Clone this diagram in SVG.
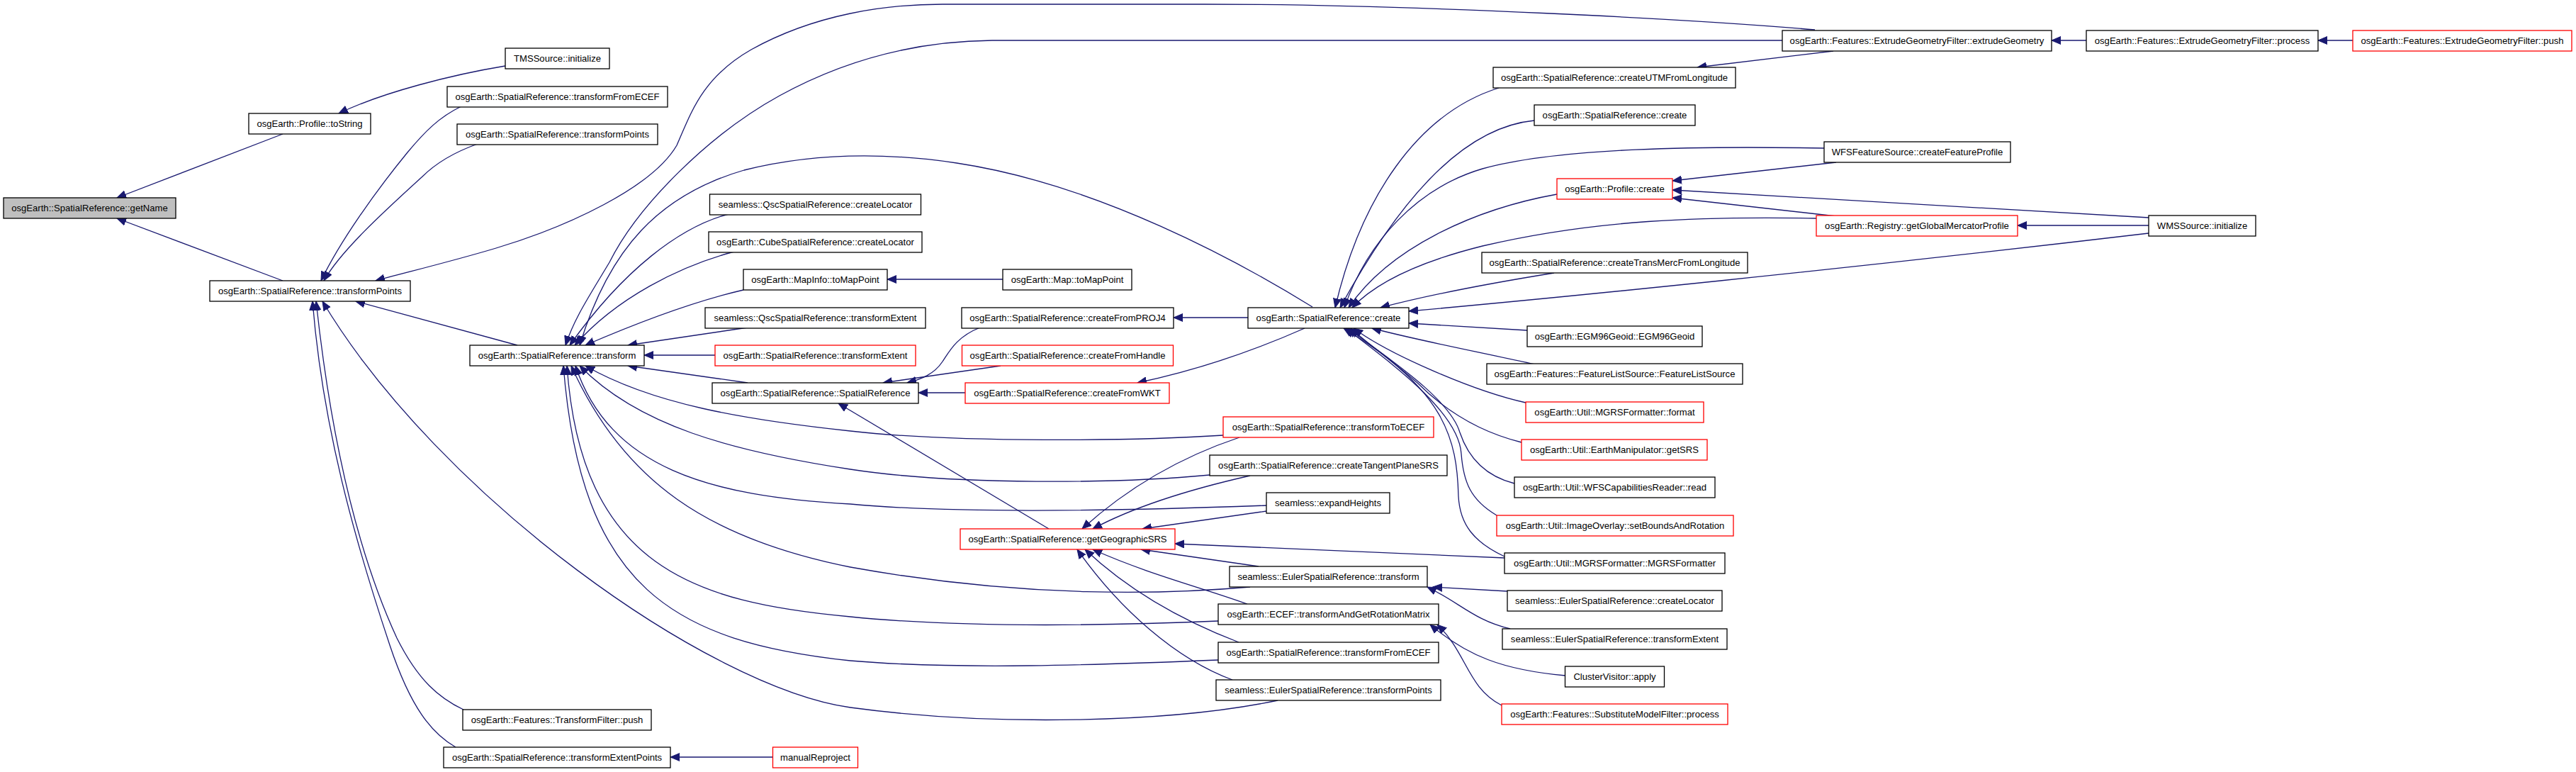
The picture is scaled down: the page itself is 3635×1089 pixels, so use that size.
<svg xmlns="http://www.w3.org/2000/svg" width="3635" height="1089" viewBox="0 0 3635 1089">
<defs>
<style>
.n rect{fill:#fff;stroke:#000;stroke-width:1.3}
.n.r rect{stroke:#f00}
.n.g rect{fill:#bfbfbf}
.n text{font-family:"Liberation Sans",Arial,sans-serif;font-size:13.1px;fill:#000;text-anchor:middle}
#edges path{fill:none;stroke:#191970;stroke-width:1.3;marker-end:url(#ah)}
</style>
<marker id="ah" markerUnits="userSpaceOnUse" markerWidth="14" markerHeight="12" viewBox="0 -6 14 12" refX="13" refY="0" orient="auto">
<path d="M0,-5.5 L13,0 L0,5.5 Z" fill="#191970" stroke="#191970" stroke-width="1"/>
</marker>
</defs>
<rect width="3635" height="1089" fill="#fff"/>
<g id="edges">
<path d="M399,189 L165,279"/>
<path d="M399,396 L165,308"/>
<path d="M713,93 C640,105 540,130 478,160"/>
<path d="M651,150 C620,165 600,185 575,215 C530,270 480,340 453,396"/>
<path d="M674,203 C640,215 615,230 595,250 C540,300 480,355 457,396"/>
<path d="M730,487 L502,425"/>
<path d="M2561,42 C2400,28 2000,6 1700,6 L1330,6 C1250,6 1150,20 1060,70 C990,110 975,160 955,205 C920,265 800,320 700,350 C640,368 570,385 530,396"/>
<path d="M2515,57 L1400,57 C1300,58 1200,80 1100,135 C1000,190 900,290 860,370 C830,420 810,450 798,487"/>
<path d="M1852,433 C1750,370 1550,260 1350,230 C1250,215 1150,215 1050,240 C930,275 860,350 818,487"/>
<path d="M1028,302 C960,320 880,380 804,487"/>
<path d="M1036,355 C960,375 870,420 811,487"/>
<path d="M1049,409 C980,425 900,455 826,487"/>
<path d="M1055,462 L886,487"/>
<path d="M1009,501 L909,501"/>
<path d="M1055,540 L886,516"/>
<path d="M1415,394 L1252,394"/>
<path d="M1383,462 C1350,475 1340,495 1330,510 C1318,528 1300,535 1280,540"/>
<path d="M1412,516 L1246,540"/>
<path d="M1362,554 L1296,554"/>
<path d="M1761,448 L1656,448"/>
<path d="M1841,463 C1780,490 1700,520 1605,540"/>
<path d="M1480,746 L1183,569"/>
<path d="M1726,614 C1600,622 1350,625 1200,608 C1050,592 920,570 826,516"/>
<path d="M1707,670 C1580,682 1350,685 1200,662 C1030,636 900,600 818,516"/>
<path d="M1787,713 C1600,720 1350,725 1200,711 C1000,700 860,660 812,516"/>
<path d="M1764,828 C1650,838 1450,845 1200,800 C1000,760 880,680 806,516"/>
<path d="M1719,876 C1550,883 1350,885 1200,870 C980,850 820,800 800,516"/>
<path d="M1719,931 C1550,938 1350,945 1200,932 C950,905 820,830 795,516"/>
<path d="M1803,988 C1650,1020 1400,1025 1200,998 C1000,970 620,700 455,425"/>
<path d="M654,1001 C620,985 590,960 560,900 C500,770 465,600 446,425"/>
<path d="M643,1054 C610,1035 580,1000 550,910 C500,760 455,600 441,425"/>
<path d="M2115,124 C2000,160 1920,280 1884,434"/>
<path d="M2165,170 C2060,180 1970,290 1891,434"/>
<path d="M2574,209 C2400,206 2200,208 2092,238 C2000,265 1930,340 1897,434"/>
<path d="M2197,274 C2080,295 1960,350 1903,434"/>
<path d="M2563,308 C2400,305 2250,310 2092,347 C2000,370 1940,400 1908,434"/>
<path d="M2193,385 C2100,400 2020,415 1948,434"/>
<path d="M3032,329 C2600,380 2200,420 1988,439"/>
<path d="M2155,466 L1988,456"/>
<path d="M2166,514 C2080,495 2000,480 1936,463"/>
<path d="M2153,568 C2080,552 1960,500 1910,463"/>
<path d="M2147,624 C2090,610 2040,580 2000,540 C1960,505 1930,485 1906,463"/>
<path d="M2137,682 C2090,670 2070,640 2060,610 C2045,560 1950,500 1902,463"/>
<path d="M2112,727 C2075,705 2065,680 2062,640 C2058,580 1960,510 1899,463"/>
<path d="M2123,785 C2080,765 2060,740 2058,700 C2056,620 2040,550 1896,463"/>
<path d="M2587,72 L2395,95"/>
<path d="M2944,57 L2895,57"/>
<path d="M3320,57 L3271,57"/>
<path d="M2591,229 L2360,255"/>
<path d="M3032,307 L2360,268"/>
<path d="M2591,305 L2360,279"/>
<path d="M3032,318 L2847,318"/>
<path d="M1749,617 C1680,640 1600,680 1527,746"/>
<path d="M1764,671 C1680,690 1600,715 1542,746"/>
<path d="M1787,721 L1612,746"/>
<path d="M2123,787 C1950,780 1800,772 1658,767"/>
<path d="M1776,799 L1610,775"/>
<path d="M1760,852 C1700,830 1620,810 1542,775"/>
<path d="M1748,906 C1680,880 1600,840 1531,775"/>
<path d="M1739,959 C1660,930 1580,860 1520,775"/>
<path d="M2127,834 L2022,828"/>
<path d="M2131,887 C2080,875 2060,850 2014,828"/>
<path d="M2209,953 C2120,945 2070,925 2018,881"/>
<path d="M2119,995 C2070,970 2070,920 2028,881"/>
<path d="M1091,1068 L946,1068"/>
</g>
<g id="n1" class="n g"><rect x="5" y="279" width="243" height="29"/><text x="126.5" y="298">osgEarth::SpatialReference::getName</text></g>
<g id="n2" class="n"><rect x="351" y="160" width="172" height="29"/><text x="437" y="179">osgEarth::Profile::toString</text></g>
<g id="n3" class="n"><rect x="296" y="396" width="283" height="29"/><text x="437.5" y="415">osgEarth::SpatialReference::transformPoints</text></g>
<g id="n4" class="n"><rect x="713" y="68" width="147" height="29"/><text x="786.5" y="87">TMSSource::initialize</text></g>
<g id="n5" class="n"><rect x="631" y="122" width="311" height="29"/><text x="786.5" y="141">osgEarth::SpatialReference::transformFromECEF</text></g>
<g id="n6" class="n"><rect x="645" y="175" width="283" height="29"/><text x="786.5" y="194">osgEarth::SpatialReference::transformPoints</text></g>
<g id="n7" class="n"><rect x="663" y="487" width="246" height="29"/><text x="786" y="506">osgEarth::SpatialReference::transform</text></g>
<g id="n8" class="n"><rect x="653" y="1001" width="266" height="29"/><text x="786" y="1020">osgEarth::Features::TransformFilter::push</text></g>
<g id="n9" class="n"><rect x="626" y="1054" width="320" height="29"/><text x="786" y="1073">osgEarth::SpatialReference::transformExtentPoints</text></g>
<g id="n11" class="n"><rect x="1001.5" y="274" width="298" height="29"/><text x="1150.5" y="293">seamless::QscSpatialReference::createLocator</text></g>
<g id="n12" class="n"><rect x="1000" y="327" width="301" height="29"/><text x="1150.5" y="346">osgEarth::CubeSpatialReference::createLocator</text></g>
<g id="n13" class="n"><rect x="1049" y="380" width="203" height="29"/><text x="1150.5" y="399">osgEarth::MapInfo::toMapPoint</text></g>
<g id="n14" class="n"><rect x="995" y="434" width="311" height="29"/><text x="1150.5" y="453">seamless::QscSpatialReference::transformExtent</text></g>
<g id="n15" class="n r"><rect x="1009" y="487" width="283" height="29"/><text x="1150.5" y="506">osgEarth::SpatialReference::transformExtent</text></g>
<g id="n16" class="n"><rect x="1005" y="540" width="291" height="29"/><text x="1150.5" y="559">osgEarth::SpatialReference::SpatialReference</text></g>
<g id="n17" class="n r"><rect x="1090.5" y="1054" width="120" height="29"/><text x="1150.5" y="1073">manualReproject</text></g>
<g id="n18" class="n"><rect x="1415" y="380" width="182" height="29"/><text x="1506" y="399">osgEarth::Map::toMapPoint</text></g>
<g id="n19" class="n"><rect x="1357" y="434" width="299" height="29"/><text x="1506.5" y="453">osgEarth::SpatialReference::createFromPROJ4</text></g>
<g id="n20" class="n r"><rect x="1357.5" y="487" width="298" height="29"/><text x="1506.5" y="506">osgEarth::SpatialReference::createFromHandle</text></g>
<g id="n21" class="n r"><rect x="1362" y="540" width="288" height="29"/><text x="1506" y="559">osgEarth::SpatialReference::createFromWKT</text></g>
<g id="n22" class="n r"><rect x="1355" y="746" width="303" height="29"/><text x="1506.5" y="765">osgEarth::SpatialReference::getGeographicSRS</text></g>
<g id="n23" class="n"><rect x="1761" y="434" width="227" height="29"/><text x="1874.5" y="453">osgEarth::SpatialReference::create</text></g>
<g id="n24" class="n r"><rect x="1726" y="588" width="297" height="29"/><text x="1874.5" y="607">osgEarth::SpatialReference::transformToECEF</text></g>
<g id="n25" class="n"><rect x="1707" y="642" width="335" height="29"/><text x="1874.5" y="661">osgEarth::SpatialReference::createTangentPlaneSRS</text></g>
<g id="n26" class="n"><rect x="1787" y="695" width="174" height="29"/><text x="1874" y="714">seamless::expandHeights</text></g>
<g id="n27" class="n"><rect x="1735" y="799" width="279" height="29"/><text x="1874.5" y="818">seamless::EulerSpatialReference::transform</text></g>
<g id="n28" class="n"><rect x="1719" y="852" width="311" height="29"/><text x="1874.5" y="871">osgEarth::ECEF::transformAndGetRotationMatrix</text></g>
<g id="n29" class="n"><rect x="1719" y="906" width="311" height="29"/><text x="1874.5" y="925">osgEarth::SpatialReference::transformFromECEF</text></g>
<g id="n30" class="n"><rect x="1716" y="959" width="317" height="29"/><text x="1874.5" y="978">seamless::EulerSpatialReference::transformPoints</text></g>
<g id="n31" class="n"><rect x="2107" y="95" width="342" height="29"/><text x="2278" y="114">osgEarth::SpatialReference::createUTMFromLongitude</text></g>
<g id="n32" class="n"><rect x="2165" y="148" width="227" height="29"/><text x="2278.5" y="167">osgEarth::SpatialReference::create</text></g>
<g id="n33" class="n r"><rect x="2197" y="252" width="163" height="29"/><text x="2278.5" y="271">osgEarth::Profile::create</text></g>
<g id="n34" class="n"><rect x="2091" y="356" width="375" height="29"/><text x="2278.5" y="375">osgEarth::SpatialReference::createTransMercFromLongitude</text></g>
<g id="n35" class="n"><rect x="2155" y="460" width="247" height="29"/><text x="2278.5" y="479">osgEarth::EGM96Geoid::EGM96Geoid</text></g>
<g id="n36" class="n"><rect x="2098" y="513" width="361" height="29"/><text x="2278.5" y="532">osgEarth::Features::FeatureListSource::FeatureListSource</text></g>
<g id="n37" class="n r"><rect x="2153" y="567" width="251" height="29"/><text x="2278.5" y="586">osgEarth::Util::MGRSFormatter::format</text></g>
<g id="n38" class="n r"><rect x="2147" y="620" width="262" height="29"/><text x="2278" y="639">osgEarth::Util::EarthManipulator::getSRS</text></g>
<g id="n39" class="n"><rect x="2137" y="673" width="283" height="29"/><text x="2278.5" y="692">osgEarth::Util::WFSCapabilitiesReader::read</text></g>
<g id="n40" class="n r"><rect x="2112" y="727" width="334" height="29"/><text x="2279" y="746">osgEarth::Util::ImageOverlay::setBoundsAndRotation</text></g>
<g id="n41" class="n"><rect x="2123" y="780" width="311" height="29"/><text x="2278.5" y="799">osgEarth::Util::MGRSFormatter::MGRSFormatter</text></g>
<g id="n42" class="n"><rect x="2127" y="833" width="303" height="29"/><text x="2278.5" y="852">seamless::EulerSpatialReference::createLocator</text></g>
<g id="n43" class="n"><rect x="2120" y="887" width="317" height="29"/><text x="2278.5" y="906">seamless::EulerSpatialReference::transformExtent</text></g>
<g id="n44" class="n"><rect x="2208.5" y="940" width="140" height="29"/><text x="2278.5" y="959">ClusterVisitor::apply</text></g>
<g id="n45" class="n r"><rect x="2119" y="993" width="319" height="29"/><text x="2278.5" y="1012">osgEarth::Features::SubstituteModelFilter::process</text></g>
<g id="n10" class="n"><rect x="2515" y="43" width="380" height="29"/><text x="2705" y="62">osgEarth::Features::ExtrudeGeometryFilter::extrudeGeometry</text></g>
<g id="n46" class="n"><rect x="2574" y="200" width="263" height="29"/><text x="2705.5" y="219">WFSFeatureSource::createFeatureProfile</text></g>
<g id="n47" class="n r"><rect x="2563" y="304" width="284" height="29"/><text x="2705" y="323">osgEarth::Registry::getGlobalMercatorProfile</text></g>
<g id="n48" class="n"><rect x="2944" y="43" width="327" height="29"/><text x="3107.5" y="62">osgEarth::Features::ExtrudeGeometryFilter::process</text></g>
<g id="n49" class="n"><rect x="3032" y="304" width="151" height="29"/><text x="3107.5" y="323">WMSSource::initialize</text></g>
<g id="n50" class="n r"><rect x="3320" y="43" width="309" height="29"/><text x="3474.5" y="62">osgEarth::Features::ExtrudeGeometryFilter::push</text></g>
</svg>
